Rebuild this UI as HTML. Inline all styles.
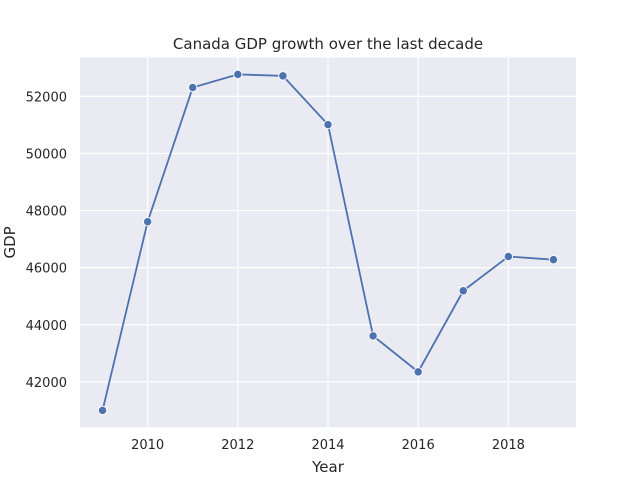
<!DOCTYPE html>
<html><head><meta charset="utf-8"><style>body{margin:0;background:#fff}svg{display:block;font-family:"DejaVu Sans","Liberation Sans",sans-serif}</style></head>
<body>
<svg id="chart" width="640" height="480"></svg>
<script>
const years=[2009,2010,2011,2012,2013,2014,2015,2016,2017,2018,2019];
const gdp=[41000,47610,52310,52770,52720,51010,43610,42350,45190,46390,46280];
const xTicks=[2010,2012,2014,2016,2018];
const yTicks=[42000,44000,46000,48000,50000,52000];
const L=80,R=576,T=57.6,B=427.2;
const ns="http://www.w3.org/2000/svg";
const svg=document.getElementById('chart');
const xmin=Math.min(...years),xmax=Math.max(...years),xm=(xmax-xmin)*0.05;
const ymin=Math.min(...gdp),ymax=Math.max(...gdp),ym=(ymax-ymin)*0.05;
const X=v=>L+(v-(xmin-xm))/((xmax+xm)-(xmin-xm))*(R-L);
const Y=v=>B-(v-(ymin-ym))/((ymax+ym)-(ymin-ym))*(B-T);
function el(t,a,p){const e=document.createElementNS(ns,t);for(const k in a)e.setAttribute(k,a[k]);(p||svg).appendChild(e);return e;}
const bg=el('rect',{x:L,y:T,width:R-L,height:B-T,fill:'#eaeaf2'});


xTicks.forEach(t=>{
 const g=el('line',{x1:X(t),x2:X(t),y1:T,y2:B,stroke:'#fff','stroke-width':1.2});
 
 
 const tx=el('text',{x:X(t),y:B+22,'text-anchor':'middle','font-size':13,fill:'#262626'});tx.textContent=t;
 
 
});
yTicks.forEach(t=>{
 const g=el('line',{x1:L,x2:R,y1:Y(t),y2:Y(t),stroke:'#fff','stroke-width':1.2});
 
 
 const tx=el('text',{x:L-13,y:Y(t)+5,'text-anchor':'end','font-size':13,fill:'#262626'});tx.textContent=t;
 
 
});
const pts=years.map((y,i)=>X(y)+','+Y(gdp[i])).join(' ');
const line=el('polyline',{points:pts,fill:'none',stroke:'#4c72b0','stroke-width':1.8});


years.forEach((y,i)=>{
 const c=el('circle',{cx:X(y),cy:Y(gdp[i]),r:4.2,fill:'#4c72b0',stroke:'#fff','stroke-width':0.9});
 
 
});
const title=el('text',{x:(L+R)/2,y:49,'text-anchor':'middle','font-size':15,fill:'#262626'});title.textContent='Canada GDP growth over the last decade';


const xl=el('text',{x:(L+R)/2,y:472,'text-anchor':'middle','font-size':15,fill:'#262626'});xl.textContent='Year';


const yl=el('text',{x:15,y:(T+B)/2,'text-anchor':'middle','font-size':15,fill:'#262626',transform:'rotate(-90 15 '+((T+B)/2)+')'});yl.textContent='GDP';


</script>
</body></html>
